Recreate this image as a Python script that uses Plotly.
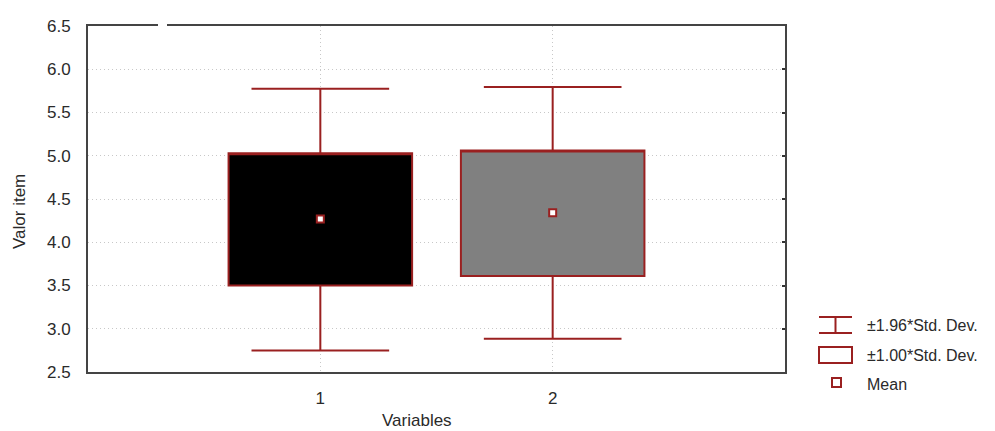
import plotly.graph_objects as go

# Summary statistics per variable
variables = ["1", "2"]
positions = [1, 2]
means = [4.27, 4.34]
sd_low = [3.50, 3.61]        # mean - 1.00*SD
sd_high = [5.03, 5.06]       # mean + 1.00*SD
whisk_low = [2.75, 2.885]    # mean - 1.96*SD
whisk_high = [5.775, 5.795]  # mean + 1.96*SD
fills = ["#000000", "#808080"]

y_ticks = [2.5, 3.0, 3.5, 4.0, 4.5, 5.0, 5.5, 6.0, 6.5]
legend_labels = ["\u00b11.96*Std. Dev.", "\u00b11.00*Std. Dev.", "Mean"]

RED = "#9A2020"
FONT = "Liberation Sans, Arial, sans-serif"
TXT = "#2a2a2a"

# plot area in pixels
L, T, R, B = 88, 26, 785, 372
W_PX, H_PX = 995, 431


def px_x(px):
    return (px - L) / (R - L)


def px_y(py):
    return (B - py) / (B - T)


fig = go.Figure()

for i in range(len(variables)):
    fig.add_trace(go.Box(
        x=[positions[i]],
        q1=[sd_low[i]],
        median=[sd_high[i]],
        q3=[sd_high[i]],
        lowerfence=[whisk_low[i]],
        upperfence=[whisk_high[i]],
        width=0.79,
        whiskerwidth=0.75,
        fillcolor=fills[i],
        line=dict(color=RED, width=2),
        boxpoints=False,
        hoverinfo="skip",
        showlegend=False,
    ))

fig.add_trace(go.Scatter(
    x=positions,
    y=means,
    mode="markers",
    marker=dict(symbol="square", size=7, color="white",
                line=dict(color=RED, width=2)),
    showlegend=False,
    hoverinfo="skip",
))

# invisible trace to drive the right-hand tick marks
fig.add_trace(go.Scatter(x=[positions[0]], y=[means[0]], yaxis="y2",
                         mode="markers", marker=dict(opacity=0),
                         showlegend=False, hoverinfo="skip"))

grid = dict(showgrid=True, gridcolor="#c8c8c8", griddash="1px,3px", gridwidth=1)

fig.update_layout(
    width=W_PX, height=H_PX,
    margin=dict(l=L, r=W_PX - R, t=T, b=H_PX - B),
    paper_bgcolor="white", plot_bgcolor="white",
    boxmode="overlay",
    font=dict(family=FONT, size=17, color=TXT),
    xaxis=dict(
        range=[0, 3], tickvals=positions, ticktext=variables,
        showline=True, linecolor="#444444", linewidth=2, mirror=True,
        ticks="", ticklabelstandoff=10, zeroline=False, **grid,
    ),
    yaxis=dict(
        range=[2.5, 6.5], tickvals=y_ticks,
        ticktext=[f"{v:.1f}" for v in y_ticks],
        showline=True, linecolor="#444444", linewidth=2, mirror=True,
        ticks="", ticklabelstandoff=12, zeroline=False, **grid,
    ),
    yaxis2=dict(
        overlaying="y", side="right", range=[2.5, 6.5], tickvals=y_ticks,
        showticklabels=False, ticks="inside", ticklen=3, tickwidth=2,
        tickcolor="#333333", showgrid=False, zeroline=False, showline=False,
    ),
)

shapes = []
# small break in the top frame
shapes.append(dict(type="line", xref="paper", yref="paper",
                   x0=px_x(158), x1=px_x(167), y0=px_y(T), y1=px_y(T),
                   line=dict(color="white", width=4)))

# legend glyphs
lx0, lx1 = px_x(819), px_x(852)
lxm = px_x(835.5)
shapes += [
    dict(type="line", xref="paper", yref="paper", x0=lx0, x1=lx1,
         y0=px_y(317), y1=px_y(317), line=dict(color=RED, width=2)),
    dict(type="line", xref="paper", yref="paper", x0=lx0, x1=lx1,
         y0=px_y(333), y1=px_y(333), line=dict(color=RED, width=2)),
    dict(type="line", xref="paper", yref="paper", x0=lxm, x1=lxm,
         y0=px_y(317), y1=px_y(333), line=dict(color=RED, width=2)),
    dict(type="rect", xref="paper", yref="paper", x0=lx0, x1=lx1,
         y0=px_y(363), y1=px_y(347), line=dict(color=RED, width=2),
         fillcolor="white"),
    dict(type="rect", xref="paper", yref="paper", x0=px_x(832), x1=px_x(841),
         y0=px_y(387), y1=px_y(378), line=dict(color=RED, width=2),
         fillcolor="white"),
]
fig.update_layout(shapes=shapes)

annotations = []
for label, yc in zip(legend_labels, [325, 355, 384]):
    annotations.append(dict(
        text=label, xref="paper", yref="paper", x=px_x(865), y=px_y(yc),
        xanchor="left", yanchor="middle", showarrow=False,
        font=dict(family=FONT, size=16, color=TXT)))

annotations.append(dict(
    text="Variables", xref="paper", yref="paper", x=px_x(416.5), y=px_y(420),
    xanchor="center", yanchor="middle", showarrow=False,
    font=dict(family=FONT, size=17, color=TXT)))
annotations.append(dict(
    text="Valor item", xref="paper", yref="paper", x=px_x(19), y=px_y(212),
    xanchor="center", yanchor="middle", showarrow=False, textangle=-90,
    font=dict(family=FONT, size=17, color=TXT)))
fig.update_layout(annotations=annotations)

fig.write_html("out.html")
